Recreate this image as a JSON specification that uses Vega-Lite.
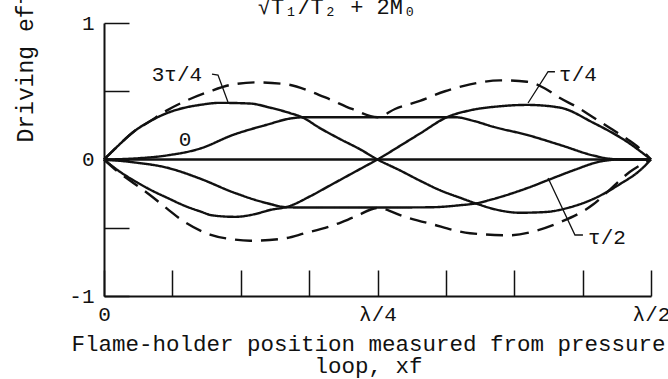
{
  "$schema": "https://vega.github.io/schema/vega-lite/v6.json",
  "width": 547,
  "height": 273,
  "autosize": {"type": "none"},
  "padding": {"left": 104, "top": 23, "right": 17, "bottom": 83},
  "background": "white",
  "config": {"view": {"stroke": null}, "font": "Liberation Mono"},
  "datasets": {
    "curves": [
      {"c": "zero", "s": "solid", "i": 0, "x": 0, "y": 0},
      {"c": "zero", "s": "solid", "i": 1, "x": 0.5, "y": 0},

      {"c": "t0", "s": "solid", "i": 0, "x": 0, "y": 0},
      {"c": "t0", "s": "solid", "i": 1, "x": 0.0165, "y": 0.003},
      {"c": "t0", "s": "solid", "i": 2, "x": 0.0329, "y": 0.01},
      {"c": "t0", "s": "solid", "i": 3, "x": 0.0576, "y": 0.03},
      {"c": "t0", "s": "solid", "i": 4, "x": 0.0878, "y": 0.08},
      {"c": "t0", "s": "solid", "i": 5, "x": 0.1179, "y": 0.18},
      {"c": "t0", "s": "solid", "i": 6, "x": 0.149, "y": 0.255},
      {"c": "t0", "s": "solid", "i": 7, "x": 0.17, "y": 0.3},
      {"c": "t0", "s": "solid", "i": 8, "x": 0.1837, "y": 0.31},
      {"c": "t0", "s": "solid", "i": 9, "x": 0.25, "y": 0.31},
      {"c": "t0", "s": "solid", "i": 10, "x": 0.3208, "y": 0.31},
      {"c": "t0", "s": "solid", "i": 11, "x": 0.3391, "y": 0.28},
      {"c": "t0", "s": "solid", "i": 12, "x": 0.3556, "y": 0.24},
      {"c": "t0", "s": "solid", "i": 13, "x": 0.3867, "y": 0.18},
      {"c": "t0", "s": "solid", "i": 14, "x": 0.4168, "y": 0.107},
      {"c": "t0", "s": "solid", "i": 15, "x": 0.447, "y": 0.03},
      {"c": "t0", "s": "solid", "i": 16, "x": 0.4625, "y": 0.005},
      {"c": "t0", "s": "solid", "i": 17, "x": 0.4762, "y": 0},
      {"c": "t0", "s": "solid", "i": 18, "x": 0.5, "y": 0},

      {"c": "t2", "s": "solid", "i": 0, "x": 0, "y": 0},
      {"c": "t2", "s": "solid", "i": 1, "x": 0.0265, "y": -0.02},
      {"c": "t2", "s": "solid", "i": 2, "x": 0.0576, "y": -0.06},
      {"c": "t2", "s": "solid", "i": 3, "x": 0.0878, "y": -0.14},
      {"c": "t2", "s": "solid", "i": 4, "x": 0.1179, "y": -0.24},
      {"c": "t2", "s": "solid", "i": 5, "x": 0.149, "y": -0.32},
      {"c": "t2", "s": "solid", "i": 6, "x": 0.1673, "y": -0.35},
      {"c": "t2", "s": "solid", "i": 7, "x": 0.1837, "y": -0.352},
      {"c": "t2", "s": "solid", "i": 8, "x": 0.25, "y": -0.352},
      {"c": "t2", "s": "solid", "i": 9, "x": 0.298, "y": -0.35},
      {"c": "t2", "s": "solid", "i": 10, "x": 0.3254, "y": -0.335},
      {"c": "t2", "s": "solid", "i": 11, "x": 0.341, "y": -0.32},
      {"c": "t2", "s": "solid", "i": 12, "x": 0.3556, "y": -0.29},
      {"c": "t2", "s": "solid", "i": 13, "x": 0.3867, "y": -0.21},
      {"c": "t2", "s": "solid", "i": 14, "x": 0.4077, "y": -0.145},
      {"c": "t2", "s": "solid", "i": 15, "x": 0.4305, "y": -0.075},
      {"c": "t2", "s": "solid", "i": 16, "x": 0.4534, "y": -0.015},
      {"c": "t2", "s": "solid", "i": 17, "x": 0.4717, "y": 0},
      {"c": "t2", "s": "solid", "i": 18, "x": 0.5, "y": 0},

      {"c": "t34", "s": "solid", "i": 0, "x": 0, "y": 0},
      {"c": "t34", "s": "solid", "i": 1, "x": 0.0128, "y": 0.1},
      {"c": "t34", "s": "solid", "i": 2, "x": 0.0265, "y": 0.2},
      {"c": "t34", "s": "solid", "i": 3, "x": 0.042, "y": 0.28},
      {"c": "t34", "s": "solid", "i": 4, "x": 0.0576, "y": 0.34},
      {"c": "t34", "s": "solid", "i": 5, "x": 0.074, "y": 0.38},
      {"c": "t34", "s": "solid", "i": 6, "x": 0.0878, "y": 0.4},
      {"c": "t34", "s": "solid", "i": 7, "x": 0.106, "y": 0.415},
      {"c": "t34", "s": "solid", "i": 8, "x": 0.1335, "y": 0.41},
      {"c": "t34", "s": "solid", "i": 9, "x": 0.1517, "y": 0.38},
      {"c": "t34", "s": "solid", "i": 10, "x": 0.17, "y": 0.34},
      {"c": "t34", "s": "solid", "i": 11, "x": 0.181, "y": 0.31},
      {"c": "t34", "s": "solid", "i": 12, "x": 0.1974, "y": 0.23},
      {"c": "t34", "s": "solid", "i": 13, "x": 0.2157, "y": 0.15},
      {"c": "t34", "s": "solid", "i": 14, "x": 0.234, "y": 0.075},
      {"c": "t34", "s": "solid", "i": 15, "x": 0.25, "y": 0},
      {"c": "t34", "s": "solid", "i": 16, "x": 0.2706, "y": -0.08},
      {"c": "t34", "s": "solid", "i": 17, "x": 0.2888, "y": -0.155},
      {"c": "t34", "s": "solid", "i": 18, "x": 0.3071, "y": -0.225},
      {"c": "t34", "s": "solid", "i": 19, "x": 0.3254, "y": -0.28},
      {"c": "t34", "s": "solid", "i": 20, "x": 0.341, "y": -0.325},
      {"c": "t34", "s": "solid", "i": 21, "x": 0.3574, "y": -0.365},
      {"c": "t34", "s": "solid", "i": 22, "x": 0.3803, "y": -0.39},
      {"c": "t34", "s": "solid", "i": 23, "x": 0.4031, "y": -0.385},
      {"c": "t34", "s": "solid", "i": 24, "x": 0.426, "y": -0.35},
      {"c": "t34", "s": "solid", "i": 25, "x": 0.447, "y": -0.29},
      {"c": "t34", "s": "solid", "i": 26, "x": 0.4717, "y": -0.18},
      {"c": "t34", "s": "solid", "i": 27, "x": 0.4899, "y": -0.08},
      {"c": "t34", "s": "solid", "i": 28, "x": 0.5, "y": 0},

      {"c": "t14", "s": "solid", "i": 0, "x": 0, "y": 0},
      {"c": "t14", "s": "solid", "i": 1, "x": 0.0146, "y": -0.09},
      {"c": "t14", "s": "solid", "i": 2, "x": 0.0265, "y": -0.15},
      {"c": "t14", "s": "solid", "i": 3, "x": 0.042, "y": -0.22},
      {"c": "t14", "s": "solid", "i": 4, "x": 0.0576, "y": -0.28},
      {"c": "t14", "s": "solid", "i": 5, "x": 0.074, "y": -0.34},
      {"c": "t14", "s": "solid", "i": 6, "x": 0.0878, "y": -0.38},
      {"c": "t14", "s": "solid", "i": 7, "x": 0.0996, "y": -0.41},
      {"c": "t14", "s": "solid", "i": 8, "x": 0.1197, "y": -0.42},
      {"c": "t14", "s": "solid", "i": 9, "x": 0.138, "y": -0.4},
      {"c": "t14", "s": "solid", "i": 10, "x": 0.1517, "y": -0.37},
      {"c": "t14", "s": "solid", "i": 11, "x": 0.1682, "y": -0.345},
      {"c": "t14", "s": "solid", "i": 12, "x": 0.1883, "y": -0.27},
      {"c": "t14", "s": "solid", "i": 13, "x": 0.2066, "y": -0.19},
      {"c": "t14", "s": "solid", "i": 14, "x": 0.2249, "y": -0.11},
      {"c": "t14", "s": "solid", "i": 15, "x": 0.2386, "y": -0.05},
      {"c": "t14", "s": "solid", "i": 16, "x": 0.25, "y": 0},
      {"c": "t14", "s": "solid", "i": 17, "x": 0.2706, "y": 0.1},
      {"c": "t14", "s": "solid", "i": 18, "x": 0.2888, "y": 0.19},
      {"c": "t14", "s": "solid", "i": 19, "x": 0.3135, "y": 0.31},
      {"c": "t14", "s": "solid", "i": 20, "x": 0.3346, "y": 0.36},
      {"c": "t14", "s": "solid", "i": 21, "x": 0.362, "y": 0.39},
      {"c": "t14", "s": "solid", "i": 22, "x": 0.3867, "y": 0.4},
      {"c": "t14", "s": "solid", "i": 23, "x": 0.4168, "y": 0.38},
      {"c": "t14", "s": "solid", "i": 24, "x": 0.447, "y": 0.27},
      {"c": "t14", "s": "solid", "i": 25, "x": 0.4781, "y": 0.13},
      {"c": "t14", "s": "solid", "i": 26, "x": 0.5, "y": 0},

      {"c": "du", "s": "dashed", "i": 0, "x": 0, "y": 0},
      {"c": "du", "s": "dashed", "i": 1, "x": 0.0128, "y": 0.1},
      {"c": "du", "s": "dashed", "i": 2, "x": 0.0265, "y": 0.2},
      {"c": "du", "s": "dashed", "i": 3, "x": 0.042, "y": 0.28},
      {"c": "du", "s": "dashed", "i": 4, "x": 0.0576, "y": 0.36},
      {"c": "du", "s": "dashed", "i": 5, "x": 0.0722, "y": 0.42},
      {"c": "du", "s": "dashed", "i": 6, "x": 0.0969, "y": 0.5},
      {"c": "du", "s": "dashed", "i": 7, "x": 0.1179, "y": 0.55},
      {"c": "du", "s": "dashed", "i": 8, "x": 0.1399, "y": 0.565},
      {"c": "du", "s": "dashed", "i": 9, "x": 0.1673, "y": 0.55},
      {"c": "du", "s": "dashed", "i": 10, "x": 0.1883, "y": 0.5},
      {"c": "du", "s": "dashed", "i": 11, "x": 0.2066, "y": 0.44},
      {"c": "du", "s": "dashed", "i": 12, "x": 0.2267, "y": 0.37},
      {"c": "du", "s": "dashed", "i": 13, "x": 0.25, "y": 0.31},
      {"c": "du", "s": "dashed", "i": 14, "x": 0.266, "y": 0.37},
      {"c": "du", "s": "dashed", "i": 15, "x": 0.2888, "y": 0.43},
      {"c": "du", "s": "dashed", "i": 16, "x": 0.3117, "y": 0.5},
      {"c": "du", "s": "dashed", "i": 17, "x": 0.3346, "y": 0.55},
      {"c": "du", "s": "dashed", "i": 18, "x": 0.362, "y": 0.58},
      {"c": "du", "s": "dashed", "i": 19, "x": 0.3867, "y": 0.57},
      {"c": "du", "s": "dashed", "i": 20, "x": 0.4031, "y": 0.52},
      {"c": "du", "s": "dashed", "i": 21, "x": 0.4168, "y": 0.45},
      {"c": "du", "s": "dashed", "i": 22, "x": 0.4333, "y": 0.38},
      {"c": "du", "s": "dashed", "i": 23, "x": 0.447, "y": 0.31},
      {"c": "du", "s": "dashed", "i": 24, "x": 0.4625, "y": 0.23},
      {"c": "du", "s": "dashed", "i": 25, "x": 0.4781, "y": 0.15},
      {"c": "du", "s": "dashed", "i": 26, "x": 0.4899, "y": 0.08},
      {"c": "du", "s": "dashed", "i": 27, "x": 0.5, "y": 0},

      {"c": "dl", "s": "dashed", "i": 0, "x": 0, "y": 0},
      {"c": "dl", "s": "dashed", "i": 1, "x": 0.0128, "y": -0.09},
      {"c": "dl", "s": "dashed", "i": 2, "x": 0.0265, "y": -0.17},
      {"c": "dl", "s": "dashed", "i": 3, "x": 0.042, "y": -0.26},
      {"c": "dl", "s": "dashed", "i": 4, "x": 0.0576, "y": -0.36},
      {"c": "dl", "s": "dashed", "i": 5, "x": 0.0722, "y": -0.45},
      {"c": "dl", "s": "dashed", "i": 6, "x": 0.0969, "y": -0.55},
      {"c": "dl", "s": "dashed", "i": 7, "x": 0.1179, "y": -0.585},
      {"c": "dl", "s": "dashed", "i": 8, "x": 0.1335, "y": -0.595},
      {"c": "dl", "s": "dashed", "i": 9, "x": 0.1636, "y": -0.58},
      {"c": "dl", "s": "dashed", "i": 10, "x": 0.1837, "y": -0.54},
      {"c": "dl", "s": "dashed", "i": 11, "x": 0.2066, "y": -0.49},
      {"c": "dl", "s": "dashed", "i": 12, "x": 0.2294, "y": -0.42},
      {"c": "dl", "s": "dashed", "i": 13, "x": 0.25, "y": -0.355},
      {"c": "dl", "s": "dashed", "i": 14, "x": 0.2751, "y": -0.42},
      {"c": "dl", "s": "dashed", "i": 15, "x": 0.298, "y": -0.47},
      {"c": "dl", "s": "dashed", "i": 16, "x": 0.3346, "y": -0.54},
      {"c": "dl", "s": "dashed", "i": 17, "x": 0.3711, "y": -0.555},
      {"c": "dl", "s": "dashed", "i": 18, "x": 0.3958, "y": -0.52},
      {"c": "dl", "s": "dashed", "i": 19, "x": 0.4168, "y": -0.46},
      {"c": "dl", "s": "dashed", "i": 20, "x": 0.447, "y": -0.33},
      {"c": "dl", "s": "dashed", "i": 21, "x": 0.4625, "y": -0.22},
      {"c": "dl", "s": "dashed", "i": 22, "x": 0.4808, "y": -0.09},
      {"c": "dl", "s": "dashed", "i": 23, "x": 0.5, "y": 0}
    ],
    "leaders": [
      {"c": "L34", "i": 0, "x": 0.0987, "y": 0.626},
      {"c": "L34", "i": 1, "x": 0.1042, "y": 0.619},
      {"c": "L34", "i": 2, "x": 0.1133, "y": 0.421},
      {"c": "L14", "i": 0, "x": 0.3876, "y": 0.414},
      {"c": "L14", "i": 1, "x": 0.4059, "y": 0.643},
      {"c": "L14", "i": 2, "x": 0.4122, "y": 0.643},
      {"c": "L12", "i": 0, "x": 0.4059, "y": -0.136},
      {"c": "L12", "i": 1, "x": 0.4305, "y": -0.553},
      {"c": "L12", "i": 2, "x": 0.4378, "y": -0.553}
    ],
    "labels": [
      {"t": "3τ/4", "x": 0.0667, "y": 0.619},
      {"t": "0", "x": 0.074, "y": 0.143},
      {"t": "τ/4", "x": 0.4333, "y": 0.619},
      {"t": "τ/2", "x": 0.4598, "y": -0.575}
    ],
    "formula": [
      {"t": "√T₁/T₂ + 2M₀", "x": 0.213, "y": 1.066}
    ]
  },
  "encoding": {
    "x": {
      "field": "x", "type": "quantitative",
      "scale": {"domain": [0, 0.5], "nice": false, "zero": false},
      "axis": {
        "title": ["Flame-holder position measured from pressure", "loop, xf"],
        "values": [0, 0.0625, 0.125, 0.1875, 0.25, 0.3125, 0.375, 0.4375, 0.5],
        "labelExpr": "datum.value == 0 ? '0' : datum.value == 0.25 ? 'λ/4' : datum.value == 0.5 ? 'λ/2' : ''",
        "labelFlush": false, "labelOverlap": false,
        "labelFont": "Liberation Mono", "labelFontSize": 21, "labelColor": "#111",
        "labelPadding": 33, "labelBaseline": "top",
        "tickSize": -26, "tickColor": "#111", "tickWidth": 1.5,
        "domainColor": "#111", "domainWidth": 2, "grid": false,
        "titleFont": "Liberation Mono", "titleFontSize": 22.5, "titleFontWeight": "normal", "titleColor": "#111",
        "titleX": 264, "titleY": 54, "titleBaseline": "alphabetic", "titleAlign": "center", "titleLineHeight": 22
      }
    },
    "y": {
      "field": "y", "type": "quantitative",
      "scale": {"domain": [-1, 1], "nice": false},
      "axis": {
        "title": "Driving efficiency",
        "values": [-1, -0.5, 0, 0.5, 1],
        "labelExpr": "datum.value == 1 ? '1' : datum.value == 0 ? '0' : datum.value == -1 ? '-1' : ''",
        "labelOverlap": false, "labelFlush": false,
        "labelFont": "Liberation Mono", "labelFontSize": 21, "labelColor": "#111",
        "labelPadding": 35, "labelBaseline": "middle",
        "tickSize": -25, "tickColor": "#111", "tickWidth": 1.5,
        "domainColor": "#111", "domainWidth": 2, "grid": false,
        "titleFont": "Liberation Mono", "titleFontSize": 23, "titleFontWeight": "normal", "titleColor": "#111",
        "titleX": -79, "titleY": 119, "titleAngle": -90, "titleAlign": "left", "titleBaseline": "middle"
      }
    }
  },
  "layer": [
    {
      "data": {"name": "curves"},
      "mark": {"type": "line", "strokeWidth": 2.4, "color": "#111", "interpolate": "monotone"},
      "encoding": {
        "detail": {"field": "c"},
        "order": {"field": "i", "type": "quantitative"},
        "strokeDash": {
          "field": "s", "type": "nominal",
          "scale": {"domain": ["solid", "dashed"], "range": [[1, 0], [17, 9]]},
          "legend": null
        }
      }
    },
    {
      "data": {"name": "leaders"},
      "mark": {"type": "line", "strokeWidth": 1.3, "color": "#111"},
      "encoding": {
        "detail": {"field": "c"},
        "order": {"field": "i", "type": "quantitative"}
      }
    },
    {
      "data": {"name": "labels"},
      "mark": {"type": "text", "font": "Liberation Mono", "fontSize": 21, "color": "#111", "align": "center", "baseline": "middle"},
      "encoding": {"text": {"field": "t"}}
    },
    {
      "data": {"name": "formula"},
      "mark": {"type": "text", "font": "Liberation Mono", "fontSize": 22, "color": "#111", "align": "center", "baseline": "alphabetic"},
      "encoding": {"text": {"field": "t"}}
    }
  ]
}
